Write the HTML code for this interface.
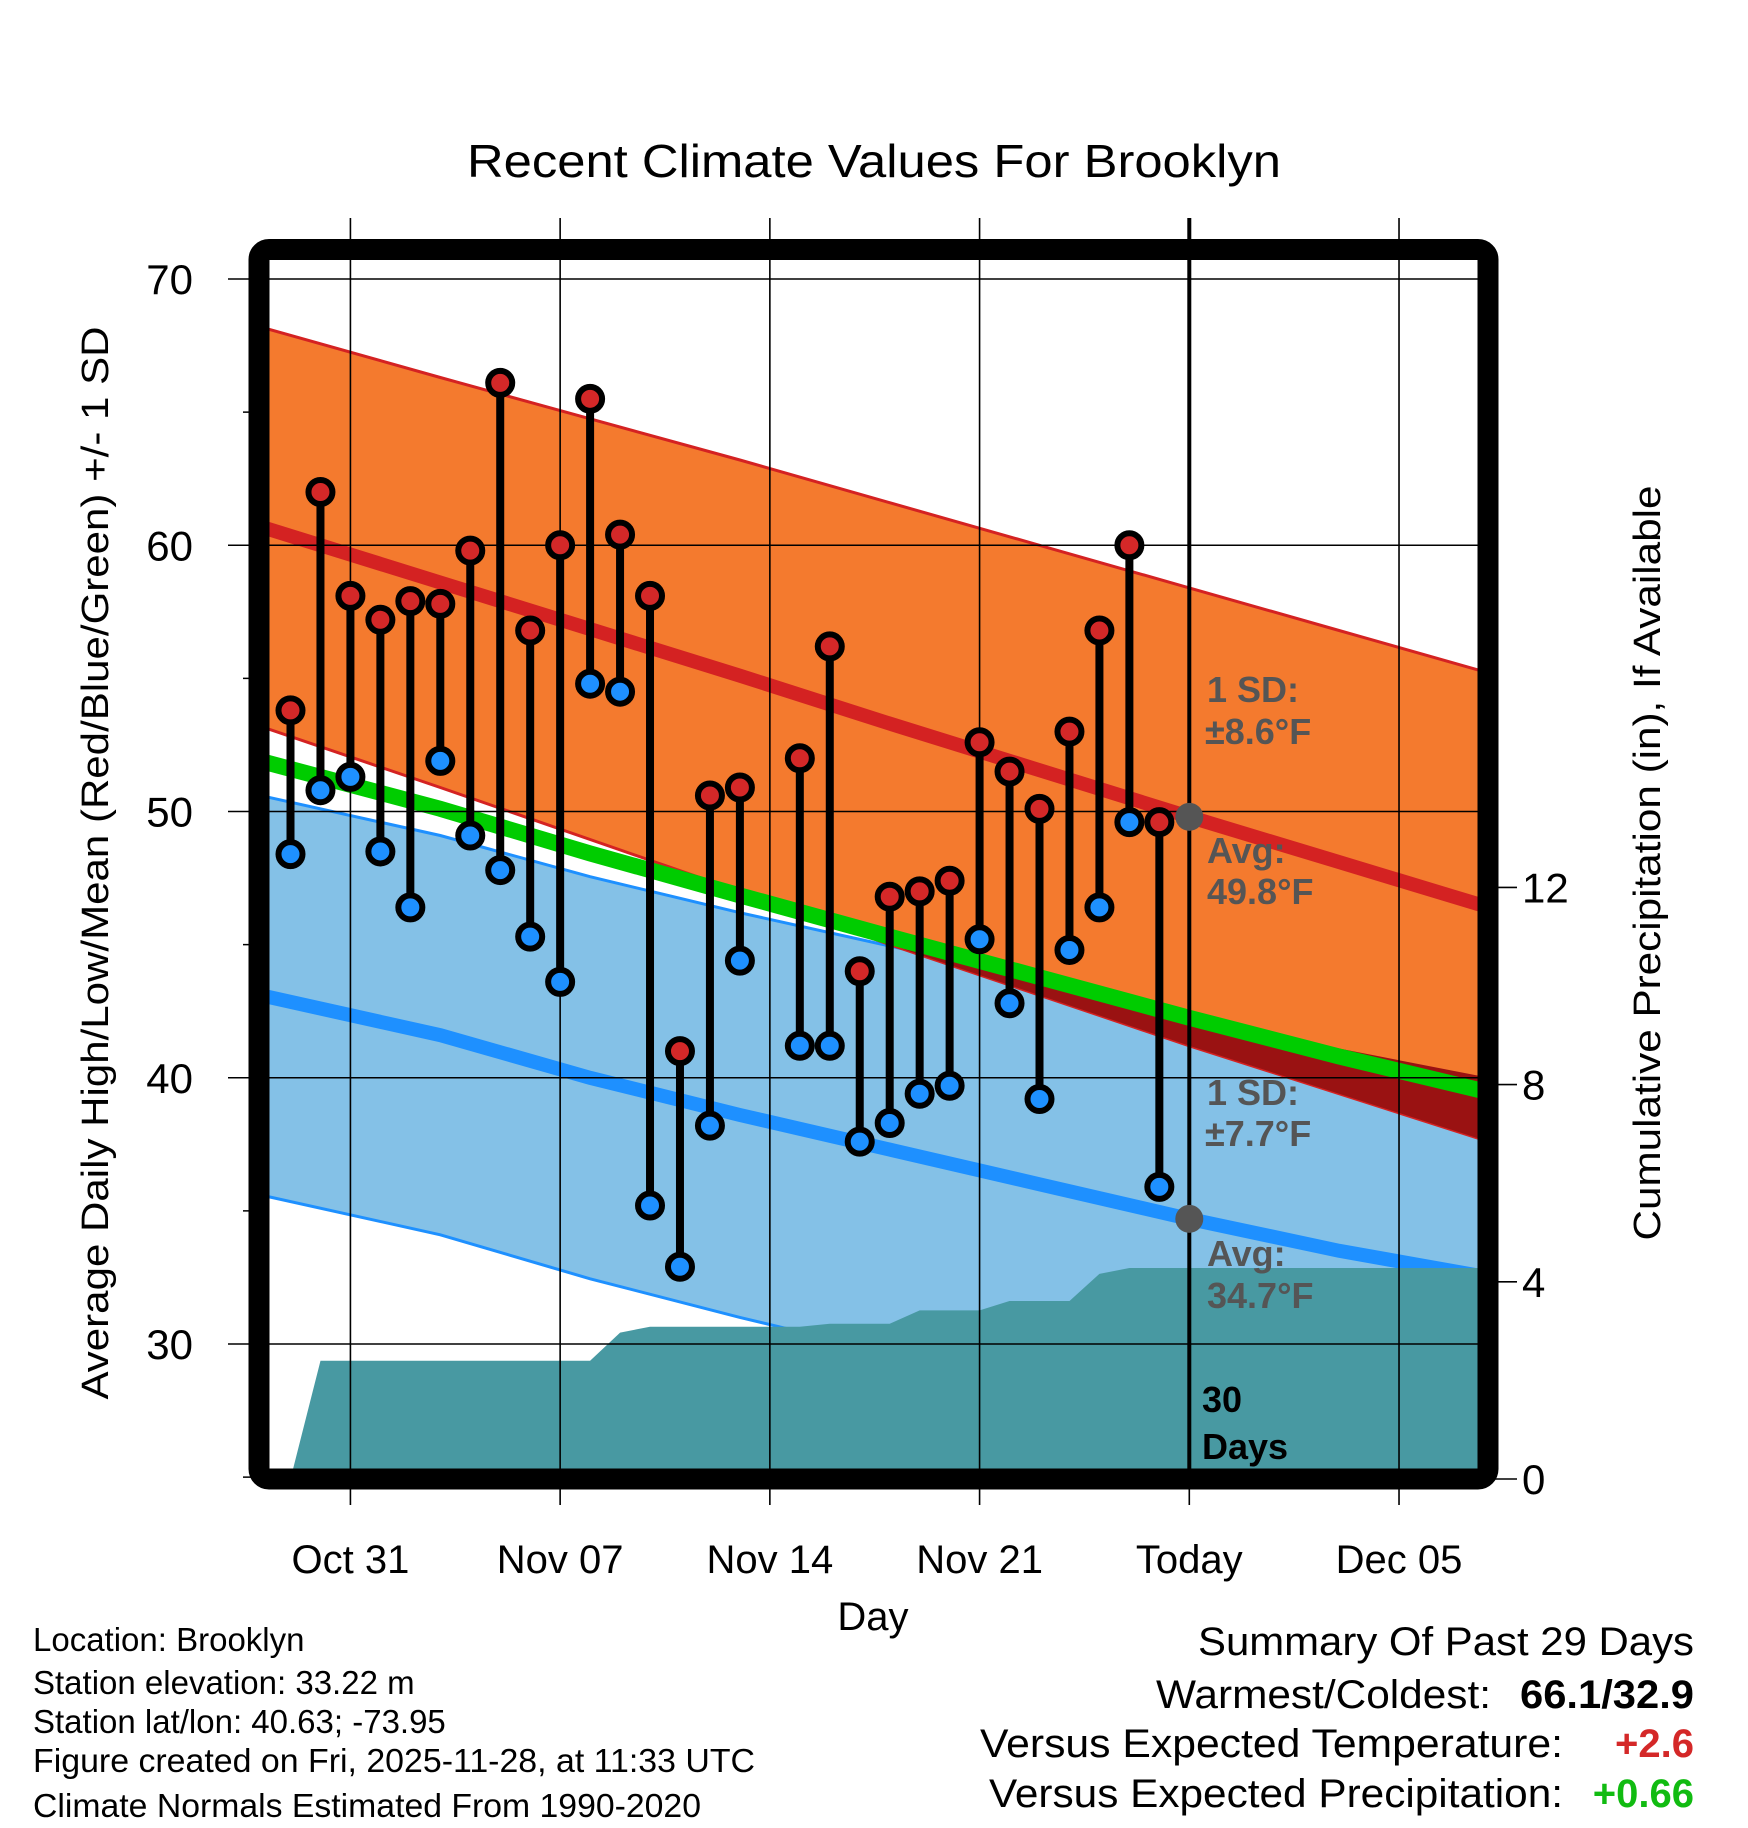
<!DOCTYPE html>
<html><head><meta charset="utf-8"><style>
html,body{margin:0;padding:0;background:#fff;}
svg{display:block;font-family:"Liberation Sans",sans-serif;}
</style></head><body>
<svg id="chart" width="1748" height="1828" viewBox="0 0 1748 1828" xmlns="http://www.w3.org/2000/svg">
<defs><clipPath id="plotclip"><rect x="269" y="260" width="1209" height="1210"/></clipPath></defs>
<g id="plot" clip-path="url(#plotclip)"></g>
<g id="over"></g>
</svg>
<script>
// ---- data ----
const obsDays = [0,1,2,3,4,5,6,7,8,9,10,11,12,13,14,15,17,18,19,20,21,22,23,24,25,26,27,28,29];
const highs = [53.8,62.0,58.1,57.2,57.9,57.8,59.8,66.1,56.8,60.0,65.5,60.4,58.1,41.0,50.6,50.9,52.0,56.2,44.0,46.8,47.0,47.4,52.6,51.5,50.1,53.0,56.8,60.0,49.6];
const lows = [48.4,50.8,51.3,48.5,46.4,51.9,49.1,47.8,45.3,43.6,54.8,54.5,35.2,32.9,38.2,44.4,41.2,41.2,37.6,38.3,39.4,39.7,45.2,42.8,39.2,44.8,46.4,49.6,35.9];
const normDays = [-1,5,10,15,20,25,30,35,40];
const normHigh = [60.7,58.6,56.85,55.1,53.3,51.55,49.8,48.1,46.4];
const normLow = [43.1,41.6,40.0,38.6,37.3,36.0,34.7,33.5,32.5];
const sdHigh = [7.5,7.7,7.9,8.1,8.3,8.45,8.6,8.7,8.8];
const sdLow = [7.5,7.5,7.55,7.6,7.65,7.7,7.7,7.6,7.5];
const precipDays = [0,1,2,3,4,5,6,7,8,9,10,11,12,13,14,15,16,17,18,19,20,21,22,23,24,25,26,27,28,29,30,31,32,33,34,35,36,37,38,39,40];
const precip = [0,2.4,2.4,2.4,2.4,2.4,2.4,2.4,2.4,2.4,2.4,2.97,3.09,3.09,3.09,3.09,3.09,3.09,3.15,3.15,3.15,3.42,3.42,3.42,3.61,3.61,3.61,4.16,4.28,4.28,4.28,4.28,4.28,4.28,4.28,4.28,4.28,4.28,4.28,4.28,4.28];
const xTickDays = [2,9,16,23,30,37];
const xTickLabels = ["Oct 31","Nov 07","Nov 14","Nov 21","Today","Dec 05"];
const yTicks = [30,40,50,60,70];
const yMinor = [25,35,45,55,65];
const pTicks = [0,4,8,12];
const todayDay = 30;
const todayHigh = 49.8, todayLow = 34.7;

// ---- axes ----
const X = d => 290.5 + 29.96*d;
const Y = t => 279 + (70 - t)*26.625;
const YP = p => 1479 - p*49.3;
const NS = "http://www.w3.org/2000/svg";
const plot = document.getElementById('plot');
const over = document.getElementById('over');
function mk(tag, attrs, parent){const e=document.createElementNS(NS,tag);for(const k in attrs)e.setAttribute(k,attrs[k]);parent.appendChild(e);return e;}
const pts = (ds, vs, f) => ds.map((d,i)=>X(d).toFixed(1)+','+f(vs[i]).toFixed(1));
const hiUp = normHigh.map((v,i)=>v+sdHigh[i]), hiLo = normHigh.map((v,i)=>v-sdHigh[i]);
const loUp = normLow.map((v,i)=>v+sdLow[i]), loLo = normLow.map((v,i)=>v-sdLow[i]);
const rev = a => a.slice().reverse();

let e = mk('polygon',{points: pts(normDays,loUp,Y).concat(rev(pts(normDays,loLo,Y))).join(' '), fill:'#84c1e7', stroke:'#1e90ff','stroke-width':3}, plot);
 
const orangePts = pts(normDays,hiUp,Y).concat(rev(pts(normDays,hiLo,Y))).join(' ');
e = mk('polygon',{points: orangePts, fill:'#f47a2e', stroke:'#d42222','stroke-width':3}, plot);
 
const cp = mk('clipPath',{id:'orangeclip'}, document.querySelector('defs'));
mk('polygon',{points: orangePts}, cp);
e = mk('polygon',{points: pts(normDays,loUp,Y).concat(rev(pts(normDays,loLo,Y))).join(' '), fill:'#9a1212','clip-path':'url(#orangeclip)'}, plot);
 
const mean = normHigh.map((v,i)=>(v+normLow[i])/2);
e = mk('polyline',{points: pts(normDays,mean,Y).join(' '), fill:'none', stroke:'#00cc00','stroke-width':16}, plot);
 
e = mk('polyline',{points: pts(normDays,normHigh,Y).join(' '), fill:'none', stroke:'#d42222','stroke-width':14}, plot);
 
e = mk('polyline',{points: pts(normDays,normLow,Y).join(' '), fill:'none', stroke:'#1e90ff','stroke-width':14}, plot);
 
const pp = pts(precipDays,precip,YP);
pp.push(X(40).toFixed(1)+','+YP(0)); pp.unshift(X(precipDays[0]).toFixed(1)+','+YP(0));
e = mk('polygon',{points: pp.join(' '), fill:'#4899a2'}, plot);
 

xTickDays.forEach((d,i)=>{
  if(d===todayDay) return;
  e = mk('line',{x1:X(d),x2:X(d),y1:218,y2:1505,stroke:'#000','stroke-width':1.6}, over);
   
});
yTicks.forEach(t=>{
  e = mk('line',{x1:228,x2:1478,y1:Y(t),y2:Y(t),stroke:'#000','stroke-width':1.6}, over);
   
  e = mk('text',{x:193,y:Y(t)+15,'font-size':42,'text-anchor':'end',fill:'#000'}, over);
  e.textContent = t;
   
});
yMinor.forEach(t=>{
  e = mk('line',{x1:243,x2:260,y1:Y(t),y2:Y(t),stroke:'#000','stroke-width':1.6}, over);
   
});
pTicks.forEach(p=>{
  e = mk('line',{x1:1488,x2:1517,y1:YP(p),y2:YP(p),stroke:'#000','stroke-width':1.6}, over);
   
  e = mk('text',{x:1522,y:YP(p)+15,'font-size':42,fill:'#000'}, over);
  e.textContent = p;
   
});
xTickDays.forEach((d,i)=>{
  e = mk('text',{x:X(d),y:1573,'font-size':40,'text-anchor':'middle',fill:'#000'}, over);
  e.textContent = xTickLabels[i];
   
});

obsDays.forEach((d,i)=>{
  e = mk('line',{x1:X(d),x2:X(d),y1:Y(highs[i]),y2:Y(lows[i]),stroke:'#000','stroke-width':8}, over);
   
});
obsDays.forEach((d,i)=>{
  e = mk('circle',{cx:X(d),cy:Y(highs[i]),r:12,fill:'#d42828',stroke:'#000','stroke-width':6}, over);
   
  e = mk('circle',{cx:X(d),cy:Y(lows[i]),r:12,fill:'#1e90ff',stroke:'#000','stroke-width':6}, over);
   
});
e = mk('line',{x1:X(todayDay),x2:X(todayDay),y1:218,y2:1470,stroke:'#000','stroke-width':4}, over);
 
e = mk('line',{x1:X(todayDay),x2:X(todayDay),y1:1480,y2:1505,stroke:'#000','stroke-width':1.6}, over);
 
e = mk('circle',{cx:X(todayDay),cy:Y(todayHigh),r:14,fill:'#555'}, over);
 
e = mk('circle',{cx:X(todayDay),cy:Y(todayLow),r:14,fill:'#555'}, over);
 
</script>
<svg style="position:absolute;left:0;top:0" width="1748" height="1828" viewBox="0 0 1748 1828" xmlns="http://www.w3.org/2000/svg" font-family="Liberation Sans, sans-serif">
<rect x="259" y="249.5" width="1229" height="1229.5" rx="10" fill="none" stroke="#000" stroke-width="21"/>
<g font-weight="bold" font-size="36" fill="#555">
<text x="1207" y="702">1 SD:</text>
<text x="1205" y="744">±8.6°F</text>
<text x="1207" y="863">Avg:</text>
<text x="1207" y="904">49.8°F</text>
<text x="1207" y="1105">1 SD:</text>
<text x="1205" y="1146">±7.7°F</text>
<text x="1207" y="1266">Avg:</text>
<text x="1207" y="1308">34.7°F</text>
<text x="1202" y="1412" fill="#000">30</text>
<text x="1202" y="1459" fill="#000">Days</text>
</g>
<text x="874" y="177" font-size="46" text-anchor="middle" textLength="814" lengthAdjust="spacingAndGlyphs">Recent Climate Values For Brooklyn</text>
<text transform="translate(108,863) rotate(-90)" font-size="38" text-anchor="middle" textLength="1073" lengthAdjust="spacingAndGlyphs">Average Daily High/Low/Mean (Red/Blue/Green) +/- 1 SD</text>
<text transform="translate(1660,863) rotate(-90)" font-size="38" text-anchor="middle" textLength="755" lengthAdjust="spacingAndGlyphs">Cumulative Precipitation (in), If Available</text>
<text x="873" y="1630" font-size="40" text-anchor="middle">Day</text>
<g font-size="33">
<text x="33" y="1651">Location: Brooklyn</text>
<text x="33" y="1694">Station elevation: 33.22 m</text>
<text x="33" y="1733">Station lat/lon: 40.63; -73.95</text>
<text x="33" y="1772" textLength="722" lengthAdjust="spacingAndGlyphs">Figure created on Fri, 2025-11-28, at 11:33 UTC</text>
<text x="33" y="1817" textLength="668" lengthAdjust="spacingAndGlyphs">Climate Normals Estimated From 1990-2020</text>
</g>
<g font-size="40">
<text x="1694" y="1655" text-anchor="end" textLength="496" lengthAdjust="spacingAndGlyphs">Summary Of Past 29 Days</text>
<text x="1491" y="1708" text-anchor="end" textLength="335" lengthAdjust="spacingAndGlyphs">Warmest/Coldest:</text>
<text x="1694" y="1708" text-anchor="end" font-weight="bold" textLength="174" lengthAdjust="spacingAndGlyphs">66.1/32.9</text>
<text x="1563" y="1757" text-anchor="end" textLength="583" lengthAdjust="spacingAndGlyphs">Versus Expected Temperature:</text>
<text x="1694" y="1757" text-anchor="end" font-weight="bold" fill="#d42828">+2.6</text>
<text x="1563" y="1807" text-anchor="end" textLength="574" lengthAdjust="spacingAndGlyphs">Versus Expected Precipitation:</text>
<text x="1694" y="1807" text-anchor="end" font-weight="bold" fill="#11bb11">+0.66</text>
</g>
</svg>
</body></html>
